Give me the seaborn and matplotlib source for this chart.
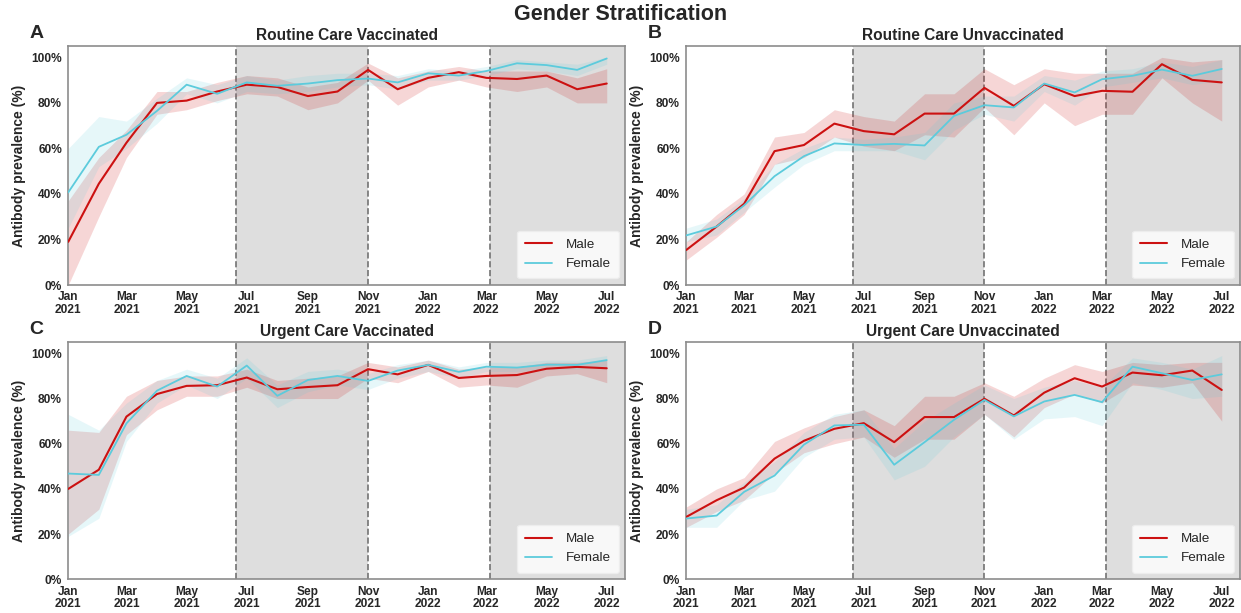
import numpy as np
import pandas as pd
import matplotlib
matplotlib.use("Agg")
import matplotlib.pyplot as plt
import matplotlib.dates as mdates
from matplotlib.ticker import FuncFormatter
import seaborn as sns

# ------------------------------------------------------------
# Data (monthly antibody prevalence, %, with 95% CI bounds)
# ------------------------------------------------------------
months = pd.date_range("2021-01-01", "2022-07-01", freq="MS")

# A - Routine Care Vaccinated
rcv_male = [19, 44.5, 62.5, 80, 81, 85, 88, 87, 83, 85, 94.5, 86, 91, 93.5, 91, 90.5, 92, 86, 88.5]
rcv_male_lo = [0, 30, 56, 75, 77, 81, 84, 83, 77, 80, 90, 79, 87, 90, 87, 85, 87, 80, 80]
rcv_male_hi = [37, 56, 68, 85, 85, 89, 92, 91, 87, 89, 97.5, 91, 94, 96, 94, 94, 94, 91, 95]
rcv_female = [40.7, 60.7, 66, 76.5, 88, 84, 89, 87.5, 88.5, 90, 90.7, 89, 93, 92, 94, 97.4, 96.6, 94.5, 99.5]
rcv_female_lo = [25, 52, 60, 71, 84, 80, 85, 84, 85, 87, 88, 86, 90, 90, 92, 95, 94, 92, 97]
rcv_female_hi = [60, 74, 72, 82, 91, 88, 92, 90, 92, 93, 93, 92, 95, 94, 96, 99, 98, 97, 100]

# B - Routine Care Unvaccinated
rcu_male = [15.4, 25.7, 35.7, 58.8, 61.5, 70.9, 67.6, 66.2, 75.3, 75.3, 86.6, 78.7, 88.2, 83, 85.3, 84.9, 97, 90.1, 89]
rcu_male_lo = [11, 21, 31, 53, 56, 65, 61, 59, 66, 65, 78, 66, 80, 70, 75, 75, 91, 80, 72]
rcu_male_hi = [19, 31, 40, 65, 67, 77, 74, 72, 84, 84, 95, 88, 95, 93, 93, 93, 100, 98, 99]
rcu_female = [21.8, 25.7, 35, 47.8, 56.6, 62.2, 61.5, 62, 61.3, 74.3, 79, 78, 88.5, 84.6, 90.4, 91.9, 94.6, 91.9, 94.9]
rcu_female_lo = [19, 22, 32, 43, 53, 59, 59, 59, 55, 68, 75, 72, 85, 79, 87, 89, 91, 88, 90]
rcu_female_hi = [25, 29, 38, 53, 60, 65, 64, 65, 67, 80, 83, 83, 92, 90, 94, 95, 98, 96, 99]

# C - Urgent Care Vaccinated
ucv_male = [40, 48.5, 72, 82, 85.6, 85.9, 89.3, 84.1, 85.1, 85.9, 93, 90.7, 94.9, 89.1, 90, 90.4, 93.2, 94, 93.4]
ucv_male_lo = [20, 31, 64, 75, 81, 81, 85, 80, 80, 80, 89, 87, 92, 85, 86, 85, 90, 91, 87]
ucv_male_hi = [66, 65, 81, 88, 90, 90, 93, 88, 89, 90, 96, 94, 97, 93, 94, 94, 96, 96, 97]
ucv_female = [46.8, 46.2, 69, 83.5, 90, 85.3, 94.6, 81.2, 88.2, 90, 87.8, 92.4, 94.9, 91.8, 94.1, 93.7, 95, 94.9, 97]
ucv_female_lo = [19, 27, 61, 78, 86, 80, 89, 76, 83, 86, 84, 89, 92, 89, 92, 92, 93, 93, 94]
ucv_female_hi = [73, 66, 78, 88, 93, 89, 98, 86, 92, 93, 91, 95, 97, 94, 96, 96, 97, 97, 99]

# D - Urgent Care Unvaccinated
ucu_male = [27.6, 35, 40.6, 53.4, 61.3, 66.6, 69.1, 60.7, 71.8, 71.8, 79.9, 72.5, 82.6, 89, 85.3, 91.5, 90.3, 92.4, 83.8]
ucu_male_lo = [23, 30, 35, 47, 56, 60, 63, 54, 62, 62, 73, 63, 76, 82, 78, 86, 85, 87, 70]
ucu_male_hi = [32, 40, 45, 61, 67, 72, 75, 68, 81, 81, 87, 81, 89, 95, 92, 96, 95, 96, 96]
ucu_female = [26.9, 28.2, 38.7, 45.9, 59.6, 68.1, 68.4, 50.7, 60.7, 70.6, 79.4, 72.1, 78.7, 81.6, 78.4, 94.1, 91.2, 88.2, 90.7]
ucu_female_lo = [23, 23, 35, 39, 54, 62, 63, 44, 50, 63, 73, 62, 71, 72, 68, 87, 84, 80, 81]
ucu_female_hi = [31, 33, 43, 52, 65, 73, 75, 58, 70, 78, 86, 80, 85, 88, 85, 98, 96, 93, 99]

panel_letters = ["A", "B", "C", "D"]
panel_titles = ["Routine Care Vaccinated", "Routine Care Unvaccinated",
                "Urgent Care Vaccinated", "Urgent Care Unvaccinated"]
panel_data = [
    (rcv_male, rcv_male_lo, rcv_male_hi, rcv_female, rcv_female_lo, rcv_female_hi),
    (rcu_male, rcu_male_lo, rcu_male_hi, rcu_female, rcu_female_lo, rcu_female_hi),
    (ucv_male, ucv_male_lo, ucv_male_hi, ucv_female, ucv_female_lo, ucv_female_hi),
    (ucu_male, ucu_male_lo, ucu_male_hi, ucu_female, ucu_female_lo, ucu_female_hi),
]

# shaded periods
shade_periods = [(pd.Timestamp("2021-06-20"), pd.Timestamp("2021-11-01")),
                 (pd.Timestamp("2022-03-05"), pd.Timestamp("2022-07-20"))]
x_min, x_max = pd.Timestamp("2021-01-01"), pd.Timestamp("2022-07-20")

male_color = "#cc1111"
female_color = "#5ccbdc"

# ------------------------------------------------------------
# Figure
# ------------------------------------------------------------
sns.set_style("white")
plt.rcParams["font.family"] = ["Liberation Sans", "DejaVu Sans"]

fig = plt.figure(figsize=(12.41, 6.13), dpi=100)
positions = [
    [0.055, 0.535, 0.449, 0.390],
    [0.553, 0.535, 0.4465, 0.390],
    [0.055, 0.055, 0.449, 0.387],
    [0.553, 0.055, 0.4465, 0.387],
]

for i, pos in enumerate(positions):
    ax = fig.add_axes(pos)
    m, m_lo, m_hi, f, f_lo, f_hi = panel_data[i]

    for start, end in shade_periods:
        ax.axvspan(start, end, color="#dedede", zorder=0, lw=0)
    for d in [shade_periods[0][0], shade_periods[0][1], shade_periods[1][0]]:
        ax.axvline(d, color="0.45", ls="--", lw=1.2, zorder=1)

    ax.fill_between(months, m_lo, m_hi, color=male_color, alpha=0.17, lw=0, zorder=2)
    ax.fill_between(months, f_lo, f_hi, color=female_color, alpha=0.15, lw=0, zorder=2)

    sns.lineplot(x=months, y=m, color=male_color, lw=1.5, label="Male", ax=ax, zorder=3)
    sns.lineplot(x=months, y=f, color=female_color, lw=1.3, label="Female", ax=ax, zorder=3)

    ax.set_xlim(x_min, x_max)
    ax.set_ylim(0, 105)
    ax.set_yticks([0, 20, 40, 60, 80, 100])
    ax.yaxis.set_major_formatter(FuncFormatter(lambda v, p: f"{v:.0f}%"))
    ax.xaxis.set_major_locator(mdates.MonthLocator(bymonth=[1, 3, 5, 7, 9, 11]))
    ax.xaxis.set_major_formatter(mdates.DateFormatter("%b\n%Y"))
    ax.tick_params(axis="both", labelsize=8.6, pad=4.5, length=0)
    for lab in ax.get_xticklabels() + ax.get_yticklabels():
        lab.set_fontweight("bold")
        lab.set_linespacing(1.05)

    ax.set_xlabel("")
    ax.set_ylabel("Antibody prevalence (%)", fontsize=10, fontweight="bold", labelpad=4)
    ax.set_title(panel_titles[i], fontsize=11.2, fontweight="bold", pad=4)
    ax.text(-0.070, 1.034, panel_letters[i], transform=ax.transAxes,
            fontsize=14, fontweight="bold", ha="left", va="baseline")

    for sp in ax.spines.values():
        sp.set_color("0.55")
        sp.set_linewidth(1.2)

    leg = ax.legend(loc="lower right", fontsize=9.7, borderpad=0.6,
                    handlelength=2.0, handletextpad=1.0, labelspacing=0.5)
    leg.get_frame().set_edgecolor("#eeeeee")

fig.text(0.5, 1 - 4 / 613, "Gender Stratification", fontsize=15.5,
         fontweight="bold", ha="center", va="top")

fig.savefig("out.png", dpi=100)
